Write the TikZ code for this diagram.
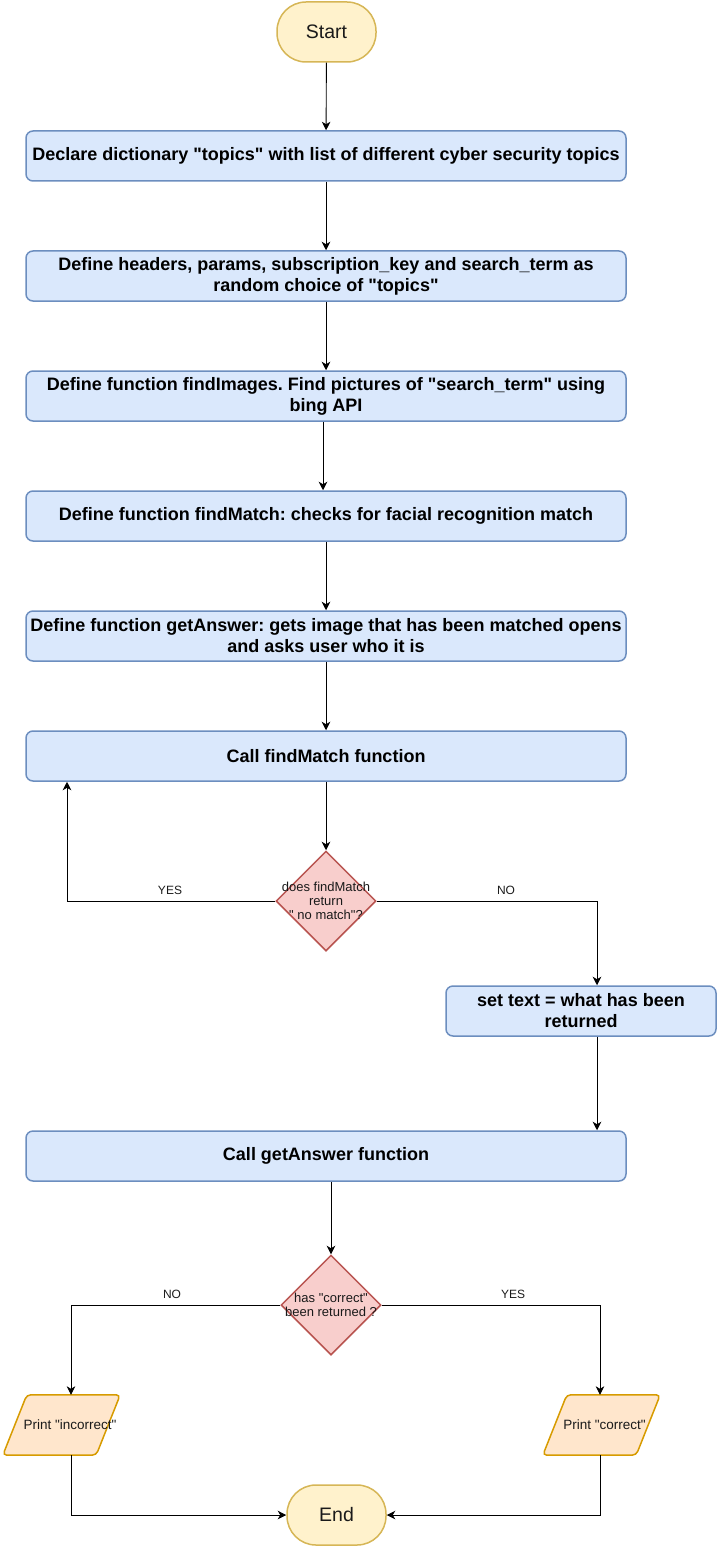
\documentclass[tikz,border=0pt]{standalone}
\usepackage{fontspec}
\setmainfont{Liberation Sans}
\usetikzlibrary{arrows.meta,shapes.geometric,calc}
\pgfdeclarelayer{background}
\pgfsetlayers{background,main}
\newcommand\qq{\XeTeXglyph\XeTeXcharglyph"22\relax}
\frenchspacing
\definecolor{bfill}{HTML}{DAE8FC}
\definecolor{bdraw}{HTML}{6C8EBF}
\definecolor{yfill}{HTML}{FFF2CC}
\definecolor{ydraw}{HTML}{D6B656}
\definecolor{rfill}{HTML}{F8CECC}
\definecolor{rdraw}{HTML}{B85450}
\definecolor{ofill}{HTML}{FFE6CC}
\definecolor{odraw}{HTML}{D79B00}
\definecolor{txt}{HTML}{1A1A1A}
\tikzset{
  procbox/.style={draw=bdraw, fill=bfill, line width=1.5pt, rounded corners=7pt,
    minimum width=600pt, minimum height=50pt, inner sep=0pt, align=center,
    font=\fontsize{18pt}{21pt}\selectfont\bfseries},
  smallbox/.style={procbox, minimum width=270pt},
  term/.style={draw=ydraw, fill=yfill, line width=1.5pt, rounded corners=29pt,
    minimum width=99pt, minimum height=60pt, inner sep=0pt, text=txt,
    font=\fontsize{19.5pt}{22pt}\selectfont},
  decision/.style={diamond, draw=rdraw, fill=rfill, line width=1.5pt,
    minimum width=100pt, minimum height=100pt, inner sep=0pt},
  dtext/.style={align=center, inner sep=0pt, text=txt,
    font=\fontsize{13pt}{14pt}\selectfont},
  pshape/.style={minimum width=117pt, minimum height=60pt, inner sep=0pt},
  ptext/.style={inner sep=0pt, text=txt, font=\fontsize{13.5pt}{15pt}\selectfont},
  paral/.style={draw=odraw, fill=ofill, line width=1.5pt, rounded corners=4pt},
  conn/.style={draw=black, line width=0.9pt, -{Stealth[length=8.5pt,width=8.5pt,inset=2.5pt]}},
  elabel/.style={inner sep=0pt, text=txt, font=\fontsize{12pt}{14pt}\selectfont},
}
\begin{document}
\begin{tikzpicture}[x=1pt,y=-1pt]
\useasboundingbox (0,0) rectangle (717,1546);

\node[term] (start) at (326.5,32) {Start};
\node[procbox] (b1) at (326,156) {Declare dictionary \qq{}topics\qq{} with list of different cyber security topics};
\node[procbox] (b2) at (326,276) {Define headers, params, subscription\_key and search\_term as\\random choice of \qq{}topics\qq{}};
\node[procbox] (b3) at (326,396) {Define function findImages. Find pictures of \qq{}search\_term\qq{} using\\bing API};
\node[procbox] (b4) at (326,516) {Define function findMatch: checks for facial recognition match};
\node[procbox] (b5) at (326,636) {Define function getAnswer: gets image that has been matched opens\\and asks user who it is};
\node[procbox] (b6) at (326,756) {Call findMatch function};
\node[decision] (d1) at (326,901) {};
\node[dtext] (d1t) at (326,901) {does findMatch\\return\\\qq{} no match\qq{}?};
\node[smallbox] (b7) at (581,1011) {set text = what has been\\returned};
\node[procbox] (b8) at (326,1156) {Call getAnswer function};
\node[decision] (d2) at (331,1305) {};
\node[dtext] (d2t) at (331,1305) {has \qq{}correct\qq{}\\been returned ?};
\node[pshape] (p1) at (61.5,1425) {};
\node[pshape] (p2) at (601.5,1425) {};
\node[term] (end) at (336.5,1515) {End};

\begin{pgfonlayer}{background}
\draw[paral] ($(p1.north west)+(24,0)$) -- (p1.north east) -- ($(p1.south east)+(-24,0)$) -- (p1.south west) -- cycle;
\draw[paral] ($(p2.north west)+(24,0)$) -- (p2.north east) -- ($(p2.south east)+(-24,0)$) -- (p2.south west) -- cycle;
\end{pgfonlayer}
\node[ptext] (p1t) at ([xshift=8.5pt]p1.center) {Print \qq{}incorrect\qq{}};
\node[ptext] (p2t) at ([xshift=3pt]p2.center) {Print \qq{}correct\qq{}};

\coordinate (c1) at (67,901);
\coordinate (c2) at (597,901);
\coordinate (c3) at (71,1305);
\coordinate (c4) at (600,1305);

\draw[conn] (start) -- (b1);
\draw[conn] (b1) -- (b2);
\draw[conn] (b2) -- (b3);
\draw[conn] ([xshift=-3pt]b3.south) -- ([xshift=-3pt]b4.north);
\draw[conn] (b4) -- (b5);
\draw[conn] (b5) -- (b6);
\draw[conn] (b6) -- (d1);
\draw[conn] (d1.west) -- (c1) -- (c1 |- b6.south);
\draw[conn] (d1.east) -- (c2) -- (c2 |- b7.north);
\draw[conn] (c2 |- b7.south) -- (c2 |- b8.north);
\draw[conn] (d2.north |- b8.south) -- (d2.north);
\draw[conn] (d2.west) -- (c3) -- (c3 |- p1.north);
\draw[conn] (d2.east) -- (c4) -- (c4 |- p2.north);
\draw[conn] (c3 |- p1.south) |- (end.west);
\draw[conn] (c4 |- p2.south) |- (end.east);

\node[elabel] (l1) at (170,890) {YES};
\node[elabel] (l2) at (506,890) {NO};
\node[elabel] (l3) at (172,1294) {NO};
\node[elabel] (l4) at (513,1294) {YES};
\end{tikzpicture}
\end{document}
